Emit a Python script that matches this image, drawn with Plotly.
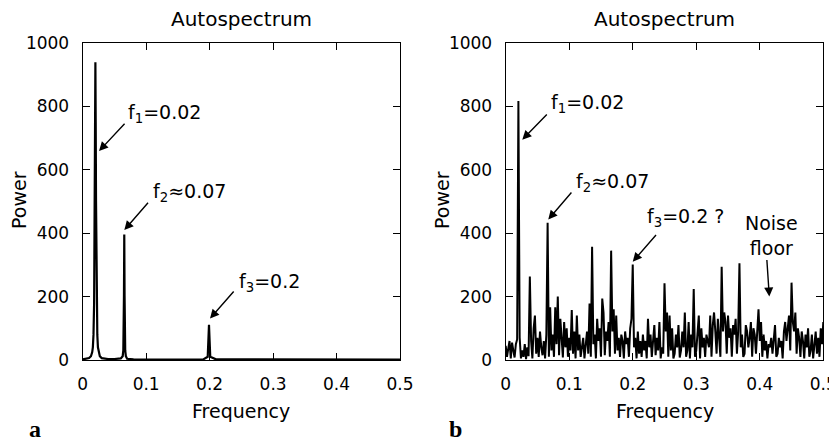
import plotly.graph_objects as go

# Panel a: clean autospectrum (frequency, power)
freq_a = [0, 0.005, 0.010, 0.013, 0.015, 0.016, 0.017, 0.018, 0.019, 0.0195, 0.020,
          0.0205, 0.021, 0.022, 0.023, 0.024, 0.025, 0.027, 0.030, 0.040, 0.050,
          0.060, 0.063, 0.064, 0.065, 0.0655, 0.066, 0.067, 0.068, 0.070, 0.080,
          0.100, 0.150, 0.190, 0.197, 0.198, 0.199, 0.200, 0.201, 0.210, 0.300,
          0.400, 0.500]
power_a = [2, 3, 6, 12, 25, 40, 80, 180, 500, 750, 939,
           750, 500, 180, 80, 40, 25, 12, 6, 3, 3,
           5, 12, 30, 200, 396, 200, 30, 12, 4, 2,
           1, 1, 2, 10, 60, 111, 60, 10, 2, 1,
           1, 1]

# Panel b: noisy autospectrum, frequency step 0.002 from 0 to 0.5
freq_step_b = 0.002
power_b = [
    45, 10, 35, 60, 5, 55, 30, 8, 50, 65,
    817, 70, 5, 30, 10, 50, 3, 40, 12, 263,
    60, 5, 100, 140, 20, 70, 10, 90, 40, 15,
    60, 5, 80, 433, 10, 166, 30, 80, 10, 166,
    50, 200, 15, 130, 70, 8, 120, 40, 100, 10,
    70, 30, 158, 20, 90, 5, 140, 30, 80, 10,
    40, 70, 5, 60, 90, 20, 178, 10, 357, 50,
    80, 5, 130, 60, 100, 10, 194, 150, 15, 90,
    60, 120, 10, 345, 90, 160, 20, 140, 30, 70,
    10, 80, 60, 5, 90, 50, 70, 10, 100, 130,
    301, 40, 70, 5, 90, 20, 60, 10, 80, 30,
    60, 5, 130, 40, 80, 10, 60, 110, 15, 70,
    30, 120, 5, 40, 20, 242, 90, 150, 10, 140,
    30, 100, 5, 20, 80, 40, 110, 8, 30, 90,
    40, 150, 10, 30, 120, 5, 80, 40, 224, 10,
    30, 90, 140, 5, 100, 40, 70, 10, 80, 60,
    40, 140, 10, 110, 150, 90, 20, 130, 80, 10,
    294, 90, 150, 120, 20, 140, 70, 100, 10, 110,
    80, 130, 20, 90, 305, 40, 80, 10, 20, 110,
    90, 40, 70, 120, 10, 100, 80, 20, 90, 160,
    60, 120, 10, 80, 30, 60, 5, 50, 40, 70,
    20, 60, 110, 10, 20, 70, 40, 60, 5, 90,
    120, 60, 100, 140, 30, 244, 120, 90, 150, 20,
    100, 70, 10, 90, 60, 5, 80, 40, 100, 10,
    30, 80, 5, 60, 90, 20, 70, 10, 100, 50, 120,
]
freq_b = [i * freq_step_b for i in range(len(power_b))]

x_ticks = [0, 0.1, 0.2, 0.3, 0.4, 0.5]
x_ticklabels = ["0", "0.1", "0.2", "0.3", "0.4", "0.5"]
y_ticks = [0, 200, 400, 600, 800, 1000]

# page body has an 8px margin; size the figure so it ends at the window edge
OFF = 8
W, H = 837 - OFF, 442 - OFF
FONT = "DejaVu Sans"

fig = go.Figure()
fig.add_trace(go.Scatter(x=freq_a, y=power_a, mode="lines",
                         line=dict(color="black", width=2.2), xaxis="x", yaxis="y",
                         showlegend=False))
fig.add_trace(go.Scatter(x=freq_b, y=power_b, mode="lines",
                         line=dict(color="black", width=2.0), xaxis="x2", yaxis="y2",
                         showlegend=False))

def px_x(p):
    return (p - OFF) / W

def px_y(p):
    return 1 - (p - OFF) / H

xa_dom = [px_x(82.7), px_x(400)]
xb_dom = [px_x(505.7), px_x(823.3)]
y_dom = [px_y(360), px_y(43)]

axis_common = dict(showgrid=False, zeroline=False, showline=True, linecolor="black",
                   linewidth=1.3, mirror="ticks", ticks="inside", ticklen=7,
                   tickwidth=1.3, tickcolor="black", automargin=False,
                   ticklabeloverflow="allow",
                   tickfont=dict(family=FONT, size=17, color="black"))

fig.update_layout(
    width=W, height=H,
    margin=dict(l=0, r=0, t=0, b=0, autoexpand=False),
    paper_bgcolor="white", plot_bgcolor="white",
    xaxis=dict(domain=xa_dom, range=[0, 0.5], tickvals=x_ticks, ticktext=x_ticklabels,
               anchor="y", ticklabelstandoff=8, **axis_common),
    yaxis=dict(domain=y_dom, range=[0, 1000], tickvals=y_ticks, anchor="x",
               ticklabelstandoff=9, **axis_common),
    xaxis2=dict(domain=xb_dom, range=[0, 0.5], tickvals=x_ticks, ticktext=x_ticklabels,
                anchor="y2", ticklabelstandoff=8, **axis_common),
    yaxis2=dict(domain=y_dom, range=[0, 1000], tickvals=y_ticks, anchor="x2",
                ticklabelstandoff=9, **axis_common),
)

txt = dict(family=FONT, size=19, color="black")
ann = []
# titles & axis labels (paper coords)
for cx in [(82.7 + 400) / 2, (505.7 + 823.3) / 2]:
    ann.append(dict(x=px_x(cx), y=px_y(19), xref="paper", yref="paper", text="Autospectrum",
                    showarrow=False, font=dict(family=FONT, size=20, color="black"),
                    xanchor="center", yanchor="middle"))
    ann.append(dict(x=px_x(cx), y=px_y(411), xref="paper", yref="paper", text="Frequency",
                    showarrow=False, font=txt, xanchor="center", yanchor="middle"))
for cx in [19, 19 + 423]:
    ann.append(dict(x=px_x(cx), y=px_y(200), xref="paper", yref="paper", text="Power",
                    showarrow=False, font=txt, textangle=-90, xanchor="center", yanchor="middle"))
ann.append(dict(x=px_x(27), y=px_y(429), xref="paper", yref="paper", text="<b>a</b>",
                showarrow=False, font=dict(family="Liberation Serif", size=24, color="black"),
                xanchor="left", yanchor="middle"))
ann.append(dict(x=px_x(447), y=px_y(429), xref="paper", yref="paper", text="<b>b</b>",
                showarrow=False, font=dict(family="Liberation Serif", size=24, color="black"),
                xanchor="left", yanchor="middle"))

def arrow(xr, yr, hx, hy, tx, ty):
    return dict(x=hx, y=hy, ax=tx, ay=ty, xref=xr, yref=yr, axref=xr, ayref=yr,
                text="", showarrow=True, arrowhead=2, arrowsize=1.3, arrowwidth=1.4,
                arrowcolor="black", standoff=0, startstandoff=0)

def label(xr, yr, x, y, t):
    return dict(x=x, y=y, xref=xr, yref=yr, text=t, showarrow=False, font=txt,
                xanchor="left", yanchor="middle")

# panel a
ann += [
    arrow("x", "y", 0.0257, 659, 0.0682, 750),
    label("x", "y", 0.069, 778, "f<sub>1</sub>=0.02"),
    arrow("x", "y", 0.0656, 410, 0.105, 501),
    label("x", "y", 0.107, 529, "f<sub>2</sub>≈0.07"),
    arrow("x", "y", 0.2006, 131, 0.240, 221),
    label("x", "y", 0.243, 243, "f<sub>3</sub>=0.2"),
]
# panel b
ann += [
    arrow("x2", "y2", 0.0261, 695, 0.067, 779),
    label("x2", "y2", 0.068, 810, "f<sub>1</sub>=0.02"),
    arrow("x2", "y2", 0.067, 443, 0.1055, 533),
    label("x2", "y2", 0.108, 561, "f<sub>2</sub>≈0.07"),
    arrow("x2", "y2", 0.200, 310, 0.2387, 399),
    label("x2", "y2", 0.220, 451, "f<sub>3</sub>=0.2 ?"),
    arrow("x2", "y2", 0.415, 200, 0.411, 320),
    dict(x=0.419, y=394, xref="x2", yref="y2", text="Noise<br>floor", showarrow=False,
         font=txt, xanchor="center", yanchor="middle"),
]
fig.update_layout(annotations=ann)

fig.write_html("out.html")
